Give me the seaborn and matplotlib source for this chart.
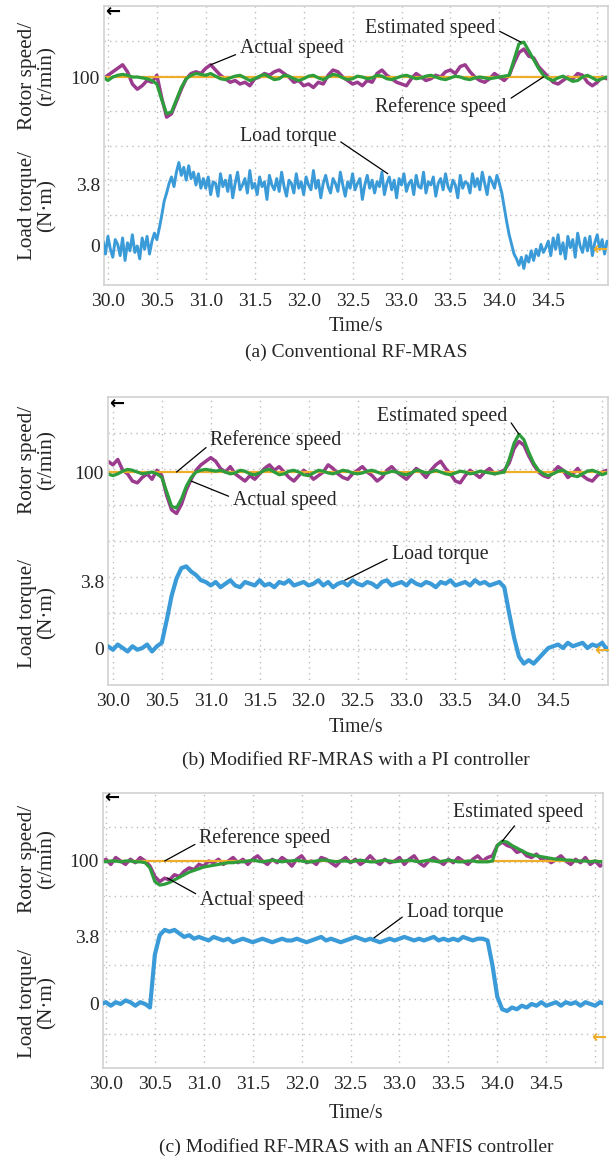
import numpy as np
import matplotlib
matplotlib.use("Agg")
import matplotlib.pyplot as plt
from matplotlib.ticker import FixedLocator
import seaborn as sns

# ---------------- data ----------------
x_ticks = [30.0, 30.5, 31.0, 31.5, 32.0, 32.5, 33.0, 33.5, 34.0, 34.5]
x_tick_labels = ["30.0", "30.5", "31.0", "31.5", "32.0", "32.5", "33.0", "33.5", "34.0", "34.5"]
speed_tick = [100]
torque_ticks = [0, 3.8]
torque_tick_labels = ["0", "3.8"]

t_start, t_end = 29.95, 35.10
ref_time = [29.95, 35.10]
ref_speed = [100, 100]

# panel (a) Conventional RF-MRAS
speed_a_actual = [99, 101, 103, 105, 107, 103, 96, 93, 95, 98,
                  97, 101, 88, 77, 79, 86, 93, 99, 102, 103,
                  102, 105, 107, 104, 101, 99, 97, 98, 96, 97,
                  95, 99, 100, 102, 101, 103, 104, 102, 100, 97,
                  98, 95, 96, 94, 97, 96, 101, 104, 103, 100,
                  98, 96, 97, 95, 98, 97, 102, 104, 101, 99,
                  97, 96, 95, 99, 102, 100, 98, 99, 101, 100,
                  103, 104, 102, 106, 107, 103, 100, 98, 97, 99,
                  102, 100, 98, 101, 108, 114, 116, 112, 111, 106,
                  103, 100, 97, 96, 98, 100, 99, 102, 101, 97,
                  95, 97, 100, 99]
speed_a_est = [100, 98, 100, 101, 101.5, 101, 100, 100, 99.5, 99,
               98, 96, 87, 79, 80, 87, 94, 99, 101, 102,
               101.5, 101, 102, 100.5, 99, 98.5, 99.5, 100.5, 101, 99.5,
               98, 99, 100.5, 101.5, 100, 98.5, 99, 101, 100.5, 99,
               98, 99, 100.5, 101, 99.5, 98.5, 100, 101.5, 101, 99.5,
               98.5, 99, 100.5, 100, 99, 99.5, 101, 100.5, 99, 98.5,
               99.5, 100.5, 101, 100, 99, 99.5, 100.5, 101, 100, 99,
               98.5, 99.5, 100.5, 100, 99, 98.5, 99.5, 100, 99.5, 99,
               99.5, 100, 100.5, 101, 110, 119, 120, 115, 110, 105,
               101, 99, 98, 99.5, 100.5, 99, 97.5, 98, 100, 101,
               99.5, 98, 99, 100]
torque_a = [0.3, -0.5, 0.6, -0.2, -0.7, 0.4, 0.1, -0.6, 0.5, -0.9, 0.2, -0.3, 0.7, -0.4, 0.0, -0.8, 0.5, -0.2, 0.6, -0.5, 0.3, 0.8,
            0.4, 1.1, 1.9, 2.8, 3.3, 3.9, 4.3, 3.7, 4.6, 5.2, 4.4, 4.9, 4.1, 5.0, 4.2, 4.6, 3.8, 4.5, 3.6, 4.2,
            3.6, 4.3, 3.2, 4.0, 3.9, 3.1, 4.5, 3.7, 4.1, 3.4,
            4.4, 3.0, 3.9, 4.6, 3.5, 3.8, 4.2, 3.3, 4.7, 3.6,
            3.9, 3.2, 4.3, 3.7, 4.0, 2.9, 4.4, 3.8, 3.5, 4.2,
            3.4, 4.6, 3.7, 3.1, 4.1, 3.9, 3.3, 4.5, 3.6, 4.0,
            3.2, 4.3, 3.8, 3.5, 4.7, 3.6, 4.1, 3.0, 3.9, 4.4,
            3.7, 3.3, 4.2, 3.9, 3.4, 4.6, 3.8, 3.1, 4.0, 3.6,
            4.5, 3.5, 3.9, 4.2, 2.9, 3.8, 4.4, 3.6, 4.1, 3.3,
            4.0, 3.7, 4.6, 3.2, 3.9, 4.3, 3.5, 4.1, 3.0, 4.2,
            3.8, 4.5, 3.4, 3.9, 4.1, 3.2, 4.4, 3.7, 3.6, 4.6,
            3.3, 4.0, 3.8, 4.3, 3.1, 3.9, 4.2, 3.5, 4.5, 3.7,
            3.4, 4.1, 3.8, 3.0, 4.4, 3.6, 4.0, 3.9, 3.3, 4.5,
            3.7, 4.2, 3.5, 4.6, 3.9, 3.2, 4.3, 4.0, 3.6, 4.4,
            3.9, 3.3, 2.4, 1.5, 0.7, 0.1, -0.5, -0.8, -1.2, -0.7, -1.4, -0.6, -1.0, -0.3, -0.9, -0.2, -0.6, 0.1, -0.4, -0.1,
            0.3, -0.6, 0.5, -0.2, 0.7, -0.5, 0.2, -0.8, 0.6, -0.1, 0.4, -0.7, 0.8, 0.0, -0.4, 0.5, -0.3, 0.6, -0.6, 0.2,
            0.7, -0.2, 0.4, -0.5, 0.3]

# panel (b) Modified RF-MRAS with a PI controller
speed_b_actual = [106, 104, 107, 101, 99, 95, 94, 97, 99, 96,
                  101, 98, 87, 79, 77, 82, 90, 96, 101, 104,
                  106, 108, 106, 102, 100, 103, 99, 97, 95, 98,
                  96, 99, 102, 104, 101, 103, 100, 97, 95, 98,
                  101, 99, 96, 98, 100, 104, 102, 99, 97, 96,
                  99, 101, 103, 100, 98, 95, 97, 101, 103, 100,
                  98, 96, 99, 102, 100, 97, 101, 104, 106, 102,
                  99, 95, 94, 98, 101, 99, 97, 100, 102, 99,
                  100, 101, 105, 113, 117, 115, 109, 104, 100, 98,
                  97, 100, 103, 101, 97, 99, 102, 98, 96, 95,
                  98, 100, 101, 99]
speed_b_est = [99, 98, 99, 100.5, 101.5, 101, 100, 99, 99.5, 100,
               99, 97, 89, 81, 80, 85, 92, 97, 100, 101,
               101.5, 101, 100.5, 101, 100, 99, 99.5, 101, 100.5, 99,
               98.5, 99.5, 101, 101.5, 100, 98.5, 99, 100.5, 101, 100,
               98.5, 98, 99.5, 101, 100.5, 99.5, 99, 100, 101, 100.5,
               99.5, 99, 99.5, 100.5, 101, 100, 99, 99.5, 100.5, 100,
               99, 98.5, 99.5, 101, 100.5, 99.5, 100, 101, 100, 99,
               98.5, 99.5, 100.5, 100, 99, 99.5, 100.5, 100, 99.5, 99,
               99.5, 100, 107, 116, 121, 118, 111, 105, 101, 99,
               98, 99, 100.5, 101, 99.5, 98, 97.5, 99, 100.5, 101,
               100, 98.5, 99.5, 100]
torque_b = [0.1, -0.1, 0.2, 0.0, -0.2, 0.1, -0.1, 0.0, 0.2, -0.2, 0.1,
            0.3, 1.6, 3.0, 4.0, 4.6, 4.7, 4.4, 4.2, 3.9, 3.8,
            3.6, 3.8, 3.5, 3.7, 3.9, 3.6, 3.5, 3.8, 3.7, 3.6,
            3.9, 3.6, 3.7, 3.5, 3.8, 3.7, 3.9, 3.6, 3.7, 3.8,
            3.6, 3.7, 3.9, 3.6, 3.8, 3.5, 3.7, 3.8, 3.6, 3.9,
            3.7, 3.6, 3.8, 3.7, 3.5, 3.8, 3.9, 3.6, 3.7, 3.8,
            3.6, 3.9, 3.7, 3.6, 3.8, 3.7, 3.5, 3.8, 3.7, 3.9,
            3.6, 3.7, 3.8, 3.6, 3.9, 3.7, 3.8, 3.6, 3.7, 3.8,
            3.5, 2.0, 0.6, -0.5, -0.9, -0.7, -0.9, -0.6, -0.3, 0.0,
            0.1, 0.2, 0.0, 0.3, 0.1, 0.2, 0.3, 0.0, 0.2, 0.1, 0.3, -0.1, 0.2]

# panel (c) Modified RF-MRAS with an ANFIS controller
speed_c_actual = [99, 101, 98, 102, 100, 98, 101, 99, 102, 100,
                  97, 91, 88, 90, 89, 92, 91, 94, 96, 95,
                  98, 97, 100, 99, 101, 98, 100, 102, 99, 101,
                  98, 101, 103, 100, 98, 101, 99, 102, 100, 97,
                  101, 103, 99, 100, 98, 102, 101, 99, 97, 100,
                  102, 99, 101, 98, 100, 103, 100, 98, 101, 99,
                  100, 102, 98, 101, 103, 99, 97, 100, 102, 100,
                  98, 101, 99, 102, 100, 98, 101, 103, 100, 102,
                  103, 109, 111, 109, 108, 105, 106, 103, 102, 104,
                  101, 102, 99, 101, 103, 100, 98, 101, 99, 102,
                  98, 100, 97, 99]
speed_c_est = [100, 99.5, 100, 100, 99.5, 100, 100, 99.5, 99.5, 99,
               96, 88, 86, 86.5, 87.5, 89, 90.5, 92, 93.5, 94.5,
               95.5, 96.5, 97, 97.5, 98, 98.5, 99, 99, 99.5, 99.5,
               100, 100.5, 100, 99.5, 100, 100.5, 100, 99.5, 100, 100,
               100.5, 100, 99.5, 99.5, 100, 100.5, 100.5, 100, 99.5, 100,
               100, 99.5, 100, 100.5, 100, 99.5, 99.5, 100, 100.5, 100,
               99.5, 100, 100, 100.5, 100, 99.5, 100, 100.5, 100, 99.5,
               100, 100.5, 100, 99.5, 99.5, 100, 100, 99.5, 99.5, 99.5,
               100, 109, 111.5, 111, 109, 107.5, 106, 104.5, 103.5, 103,
               102.5, 102, 101.5, 101, 101, 100.5, 100.5, 100, 100, 100,
               99.5, 100, 99.5, 100]
torque_c = [0.0, 0.1, -0.1, 0.1, 0.0, 0.2, 0.1, -0.1, 0.1, 0.0,
            -0.2,
            2.8, 3.9, 4.2, 4.1, 4.2, 4.0, 3.8, 3.9, 3.7, 3.8,
            3.7, 3.6, 3.8, 3.7, 3.6, 3.7, 3.5, 3.6, 3.7, 3.6,
            3.5, 3.6, 3.7, 3.6, 3.5, 3.6, 3.7, 3.6, 3.6, 3.7,
            3.6, 3.5, 3.6, 3.7, 3.8, 3.6, 3.7, 3.6, 3.5, 3.6,
            3.7, 3.8, 3.7, 3.6, 3.7, 3.6, 3.5, 3.6, 3.7, 3.6,
            3.7, 3.8, 3.7, 3.6, 3.7, 3.6, 3.7, 3.8, 3.6, 3.7,
            3.6, 3.7, 3.6, 3.8, 3.7, 3.6, 3.7, 3.7, 3.6,
            2.2, 0.4, -0.3, -0.4, -0.2, -0.3, -0.1, -0.2, 0.0, -0.1, 0.1, -0.1,
            0.0, 0.1, -0.1, 0.1, 0.0, 0.1, -0.1, 0.1, 0.0, -0.1, 0.1, 0.0]

captions = ["(a) Conventional RF-MRAS",
            "(b) Modified RF-MRAS with a PI controller",
            "(c) Modified RF-MRAS with an ANFIS controller"]

# ---------------- style ----------------
sns.set_theme(style="white")
plt.rcParams['font.family'] = ['Liberation Serif', 'DejaVu Serif']
plt.rcParams['axes.unicode_minus'] = False

C_ACT = "#9b3b8e"
C_EST = "#2e9e3c"
C_REF = "#f0ad2a"
C_TQ = "#3a9bd8"
GRID = "#bdbdbd"
FS = 14

W, H = 611, 1160
fig = plt.figure(figsize=(W / 100, H / 100), dpi=100)


def fx(x):
    return x / W


def fy(y):
    return 1 - y / H


def panel(geom, xlim, sp_lim, tq_lim, act, est, tq, tq_lw, notes, caption,
          ylab_y, time_y, cap_y, black_arrow, orange_arrow):
    l, r, t, b = geom
    ax = fig.add_axes([fx(l), fy(b), (r - l) / W, (b - t) / H])
    ax2 = ax.twinx()
    ts = np.linspace(t_start, t_end, len(act))
    tt = np.linspace(t_start, t_end, len(tq))
    sns.lineplot(x=ts, y=act, ax=ax, color=C_ACT, linewidth=2.5, estimator=None, sort=False)
    sns.lineplot(x=ref_time, y=ref_speed, ax=ax, color=C_REF, linewidth=1.6, estimator=None, sort=False)
    sns.lineplot(x=ts, y=est, ax=ax, color=C_EST, linewidth=2.3, estimator=None, sort=False)
    sns.lineplot(x=tt, y=tq, ax=ax2, color=C_TQ, linewidth=tq_lw, estimator=None, sort=False)
    for a in (ax, ax2):
        a.set_xlim(*xlim)
        a.set_xlabel("")
        a.set_ylabel("")
    ax.set_ylim(*sp_lim)
    ax2.set_ylim(*tq_lim)

    # scope-like dotted grid: 10 x 8 divisions
    ax.set_xticks(x_ticks)
    ax.set_xticklabels(x_tick_labels, fontsize=FS)
    ax.xaxis.set_minor_locator(FixedLocator([35.0]))
    divs = [sp_lim[0] + k * (sp_lim[1] - sp_lim[0]) / 8 for k in range(1, 8)]
    ax.yaxis.set_minor_locator(FixedLocator(divs))
    ax.grid(True, which='major', axis='x', color=GRID, linestyle=(0, (1, 3)), linewidth=1.0)
    ax.grid(True, which='minor', axis='both', color=GRID, linestyle=(0, (1, 3)), linewidth=1.0)
    ax.grid(False, which='major', axis='y')
    ax.set_yticks(speed_tick)
    ax.set_yticklabels([str(v) for v in speed_tick], fontsize=FS)
    ax.tick_params(axis='both', which='both', length=0, pad=3)
    ax.tick_params(axis='x', pad=6)

    ax2.yaxis.tick_left()
    ax2.set_yticks(torque_ticks)
    ax2.set_yticklabels(torque_tick_labels, fontsize=FS)
    ax2.tick_params(axis='y', length=0, pad=3)
    ax2.grid(False)
    for s in ax.spines.values():
        s.set_color("#d2d2d2")
        s.set_linewidth(1.2)
    for s in ax2.spines.values():
        s.set_visible(False)

    # annotations with leader lines
    for (target_ax, text, xy, pos, relpos) in notes:
        a = ax if target_ax == 's' else ax2
        a.annotate(text, xy=xy, xycoords='data',
                   xytext=(fx(pos[0]), fy(pos[1])), textcoords='figure fraction',
                   ha='center', va='center', fontsize=FS + 0.3,
                   arrowprops=dict(arrowstyle='-', color='black', lw=0.9,
                                   relpos=relpos, shrinkA=1, shrinkB=0))

    fig.text(fx(37), fy(ylab_y[0]), "Rotor speed/\n(r/min)", rotation=90,
             ha='center', va='center', fontsize=FS + 1.3, linespacing=1.05)
    fig.text(fx(37), fy(ylab_y[1]), "Load torque/\n(N\u00b7m)", rotation=90,
             ha='center', va='center', fontsize=FS + 1.3, linespacing=1.05)
    fig.text(fx(356), fy(time_y), "Time/s", ha='center', va='center', fontsize=FS + 0.3)
    fig.text(fx(356), fy(cap_y), caption, ha='center', va='center', fontsize=FS)
    fig.text(fx(black_arrow[0]), fy(black_arrow[1]), "\u2190", ha='center', va='center',
             fontsize=13, fontweight='bold', color='black', family=['DejaVu Sans'])
    fig.text(fx(orange_arrow[0]), fy(orange_arrow[1]), "\u2190", ha='center', va='center',
             fontsize=13, fontweight='bold', color=C_REF, family=['DejaVu Sans'])


panel((104, 608, 6, 285), (29.96, 35.11), (-19.2, 140.7), (-2.43, 14.95),
      speed_a_actual, speed_a_est, torque_a, 2.1,
      [('s', "Actual speed", (31.05, 107), (292, 49), (0, 0.3)),
       ('s', "Estimated speed", (34.22, 120), (430, 29), (1, 0.5)),
       ('s', "Reference speed", (34.45, 100), (441, 107), (1, 0.8)),
       ('t', "Load torque", (32.86, 4.5), (288, 137), (1, 0.4))],
      captions[0], (76, 206), 327, 352, (113, 12), (600, 250))

panel((108, 608, 397, 685), (29.95, 35.06), (-18.3, 141.7), (-2.13, 14.45),
      speed_b_actual, speed_b_est, torque_b, 3.0,
      [('s', "Reference speed", (30.65, 100), (276, 440), (0, 0.3)),
       ('s', "Actual speed", (30.8, 95), (285, 500), (0, 0.6)),
       ('s', "Estimated speed", (34.15, 121), (442, 417), (1, 0.5)),
       ('t', "Load torque", (32.37, 3.9), (440, 555), (0, 0.4))],
      captions[1], (460, 613), 727, 760, (117, 404), (602, 651))

panel((103, 603, 793, 1068), (29.97, 35.08), (-20.3, 139.5), (-3.63, 11.96),
      speed_c_actual, speed_c_est, torque_c, 3.0,
      [('s', "Reference speed", (30.6, 100), (265, 838), (0, 0.3)),
       ('s', "Actual speed", (30.63, 90), (252, 900), (0, 0.7)),
       ('s', "Estimated speed", (34.05, 111.5), (518, 812), (0.5, 0)),
       ('t', "Load torque", (32.74, 3.75), (455, 912), (0, 0.4))],
      captions[2], (859, 1003), 1113, 1147, (112, 798), (599, 1038))

fig.savefig("out.png", dpi=100, facecolor="white")
